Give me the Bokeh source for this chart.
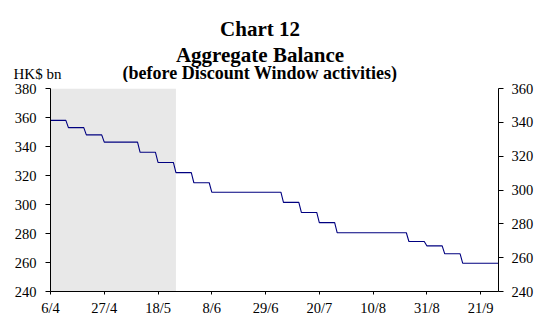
import pandas as pd
from bokeh.plotting import figure
from bokeh.layouts import column
from bokeh.models import Range1d, LinearAxis, FixedTicker, BoxAnnotation, Label, ColumnDataSource
from bokeh.embed import file_html
from bokeh.resources import INLINE

# ---- data ----
start_date = "2016-04-06"
end_date = "2016-09-28"
step_dates = ["2016-04-06", "2016-04-13", "2016-04-20", "2016-04-27", "2016-05-11",
              "2016-05-18", "2016-05-25", "2016-06-01", "2016-06-08", "2016-07-06",
              "2016-07-13", "2016-07-20", "2016-07-27", "2016-08-24", "2016-08-31",
              "2016-09-07", "2016-09-14"]
step_values = [358, 353, 348, 343, 336, 329, 322, 315, 308.5, 301.5,
               294.5, 287.5, 280.5, 274.5, 271.5, 266, 259.5]
shade_start = "2016-04-06"
shade_end = "2016-05-25"
tick_dates = ["2016-04-06", "2016-04-27", "2016-05-18", "2016-06-08", "2016-06-29",
              "2016-07-20", "2016-08-10", "2016-08-31", "2016-09-21"]
tick_labels = ["6/4", "27/4", "18/5", "8/6", "29/6", "20/7", "10/8", "31/8", "21/9"]
left_ticks = [240, 260, 280, 300, 320, 340, 360, 380]
right_ticks = [240, 260, 280, 300, 320, 340, 360]
title_lines = ["Chart 12", "Aggregate Balance", "(before Discount Window activities)"]
unit_label = "HK$ bn"

t0 = pd.Timestamp(start_date)
def day(s):
    return (pd.Timestamp(s) - t0).days

xs, ys = [], []
starts = [day(d) for d in step_dates]
ends = [s - 1 for s in starts[1:]] + [day(end_date)]
for s, e, v in zip(starts, ends, step_values):
    xs += [s, e]
    ys += [v, v]
src = ColumnDataSource(dict(x=xs, y=ys))

FONT = "Liberation Serif"
W = 537
TOTAL_H = 318
TOP_H = 82
K = 0.35  # empirical baseline compensation (fraction of font size)

# ---- header figure (titles) ----
h = figure(width=W, height=TOP_H, x_range=Range1d(0, W), y_range=Range1d(0, TOP_H),
           x_axis_type=None, y_axis_type=None, output_backend="svg", toolbar_location=None,
           title_location=None, frame_align=False,
           min_border_left=0, min_border_right=0, min_border_top=0, min_border_bottom=0)
h.outline_line_color = None
h.background_fill_color = "white"
h.border_fill_color = "white"
cx = 259.5
for txt, base, size in zip(title_lines, [35.5, 61.5, 79], [21, 21, 18]):
    h.add_layout(Label(x=cx, y=TOP_H - (base - K * size), text=txt, text_align="center",
                       text_baseline="alphabetic", text_font=FONT, text_font_size=f"{size}px",
                       text_font_style="bold", text_color="black"))
h.add_layout(Label(x=13, y=TOP_H - (79 - K * 15), text=unit_label, text_align="left",
                   text_baseline="alphabetic", text_font=FONT, text_font_size="15px",
                   text_color="black"))

# ---- chart figure ----
p = figure(width=W, height=TOTAL_H - TOP_H, title_location=None, frame_align=False,
           min_border_left=50, min_border_right=39, min_border_top=88 - TOP_H, min_border_bottom=24,
           x_range=Range1d(day(start_date), day(end_date)), y_range=Range1d(240, 380),
           x_axis_type=None, y_axis_type=None,
           output_backend="svg", toolbar_location=None)
p.outline_line_color = None
p.background_fill_color = "white"
p.border_fill_color = "white"
p.extra_y_ranges = {"right": Range1d(240, 360)}

p.add_layout(BoxAnnotation(left=day(shade_start), right=day(shade_end),
                           fill_color="#E8E8E8", fill_alpha=1.0, line_color=None,
                           level="underlay"))

p.line("x", "y", source=src, line_color="#000080", line_width=1.1)

def style(ax, tick_out, standoff):
    ax.axis_line_color = "black"
    ax.axis_line_width = 1
    ax.major_tick_line_color = "black"
    ax.major_tick_out = tick_out
    ax.major_tick_in = 0
    ax.minor_tick_line_color = None
    ax.major_label_text_font = FONT
    ax.major_label_text_font_size = "14.5px"
    ax.major_label_text_color = "black"
    ax.major_label_standoff = standoff

xax = LinearAxis(ticker=FixedTicker(ticks=[day(d) for d in tick_dates]),
                 major_label_overrides={day(d): l for d, l in zip(tick_dates, tick_labels)})
style(xax, 3, 5)
p.add_layout(xax, "below")

lax = LinearAxis(ticker=FixedTicker(ticks=left_ticks))
style(lax, 5, 9)
p.add_layout(lax, "left")

rax = LinearAxis(y_range_name="right", ticker=FixedTicker(ticks=right_ticks))
style(rax, 5, 8)
p.add_layout(rax, "right")

layout = column(h, p, spacing=0)
open("out.html", "w").write(file_html(layout, INLINE))
